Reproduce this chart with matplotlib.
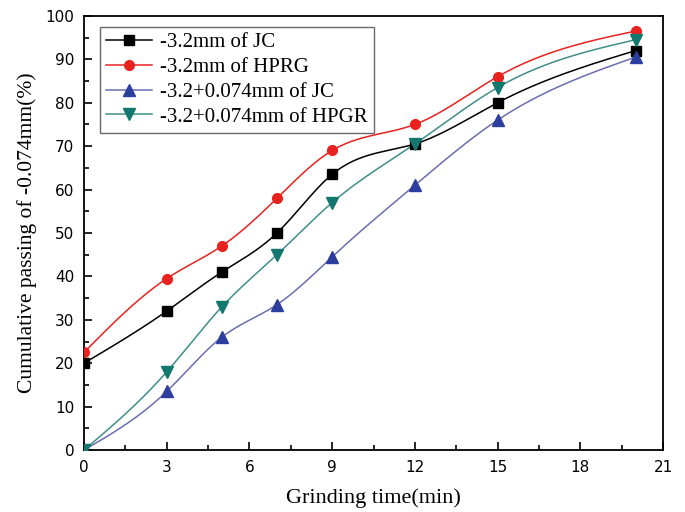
import numpy as np
import matplotlib.pyplot as plt

time_min = [0, 3, 5, 7, 9, 12, 15, 20]
jc_fine = [20.0, 32.0, 41.0, 50.0, 63.5, 70.5, 80.0, 92.0]
hpgr_fine = [22.5, 39.5, 47.0, 58.0, 69.0, 75.0, 86.0, 96.5]
jc_coarse = [0.0, 13.5, 26.0, 33.5, 44.5, 61.0, 76.0, 90.5]
hpgr_coarse = [0.0, 18.0, 33.0, 45.0, 57.0, 70.5, 83.5, 94.5]

labels = ['-3.2mm of JC', '-3.2mm of HPRG', '-3.2+0.074mm of JC', '-3.2+0.074mm of HPGR']


def natural_spline(x, y, n=300):
    # natural cubic spline through the points, only used to draw the smooth line
    x = np.asarray(x, float)
    y = np.asarray(y, float)
    k = len(x)
    h = np.diff(x)
    A = np.zeros((k, k))
    b = np.zeros(k)
    A[0, 0] = 1
    A[-1, -1] = 1
    for i in range(1, k - 1):
        A[i, i - 1] = h[i - 1]
        A[i, i] = 2 * (h[i - 1] + h[i])
        A[i, i + 1] = h[i]
        b[i] = 6 * ((y[i + 1] - y[i]) / h[i] - (y[i] - y[i - 1]) / h[i - 1])
    M = np.linalg.solve(A, b)
    xs = np.linspace(x[0], x[-1], n)
    idx = np.clip(np.searchsorted(x, xs) - 1, 0, k - 2)
    x0, x1 = x[idx], x[idx + 1]
    hh = x1 - x0
    t0 = x1 - xs
    t1 = xs - x0
    ys = (M[idx] * t0**3 + M[idx + 1] * t1**3) / (6 * hh) \
        + (y[idx] / hh - M[idx] * hh / 6) * t0 \
        + (y[idx + 1] / hh - M[idx + 1] * hh / 6) * t1
    return xs, ys


fig = plt.figure(figsize=(6.85, 5.12), dpi=100)
ax = fig.add_axes([0.1226, 0.121, 0.8454, 0.848])

series = [
    (jc_fine, 'black', 'black', 's', 6.5),
    (hpgr_fine, '#e8231f', '#e8231f', 'o', 7),
    (jc_coarse, '#2d3f9e', '#6b6db0', '^', 8),
    (hpgr_coarse, '#12776f', '#3f8f88', 'v', 8),
]

handles = []
for (vals, mc, lc, mk, ms), lab in zip(series, labels):
    xs, ys = natural_spline(time_min, vals)
    ax.plot(xs, ys, color=lc, lw=1.1, zorder=2)
    ax.plot(time_min, vals, ls='none', marker=mk, ms=ms, color=mc, zorder=3)
    h, = ax.plot([], [], color=lc, lw=1.1, marker=mk, ms=ms, mfc=mc, mec=mc)
    handles.append(h)

ax.set_xlim(0, 21)
ax.set_ylim(0, 100)
ax.set_xticks(np.arange(0, 22, 3))
ax.set_xticks(np.arange(0, 21, 1.5), minor=True)
ax.set_yticks(np.arange(0, 101, 10))
ax.set_yticks(np.arange(0, 101, 5), minor=True)
ax.tick_params(which='both', direction='in', top=False, right=False, width=1.2)
ax.tick_params(which='major', length=6, labelsize=11, pad=7)
ax.tick_params(which='minor', length=3.5)
for s in ax.spines.values():
    s.set_linewidth(1.3)

ax.set_xlabel('Grinding time(min)', family='Liberation Serif', fontsize=16, labelpad=10)
ax.set_ylabel('Cumulative passing of -0.074mm(%)', family='Liberation Serif', fontsize=15.5, labelpad=6)

leg = ax.legend(handles, labels, loc='upper left', bbox_to_anchor=(0.02, 0.985),
                prop={'family': 'Liberation Serif', 'size': 15}, frameon=True,
                fancybox=False, edgecolor='#444444', handlelength=2.2,
                labelspacing=0.25, borderpad=0.3, handletextpad=0.4,
                borderaxespad=0.2)
leg.get_frame().set_linewidth(1.0)

fig.savefig('out.png', dpi=100)
